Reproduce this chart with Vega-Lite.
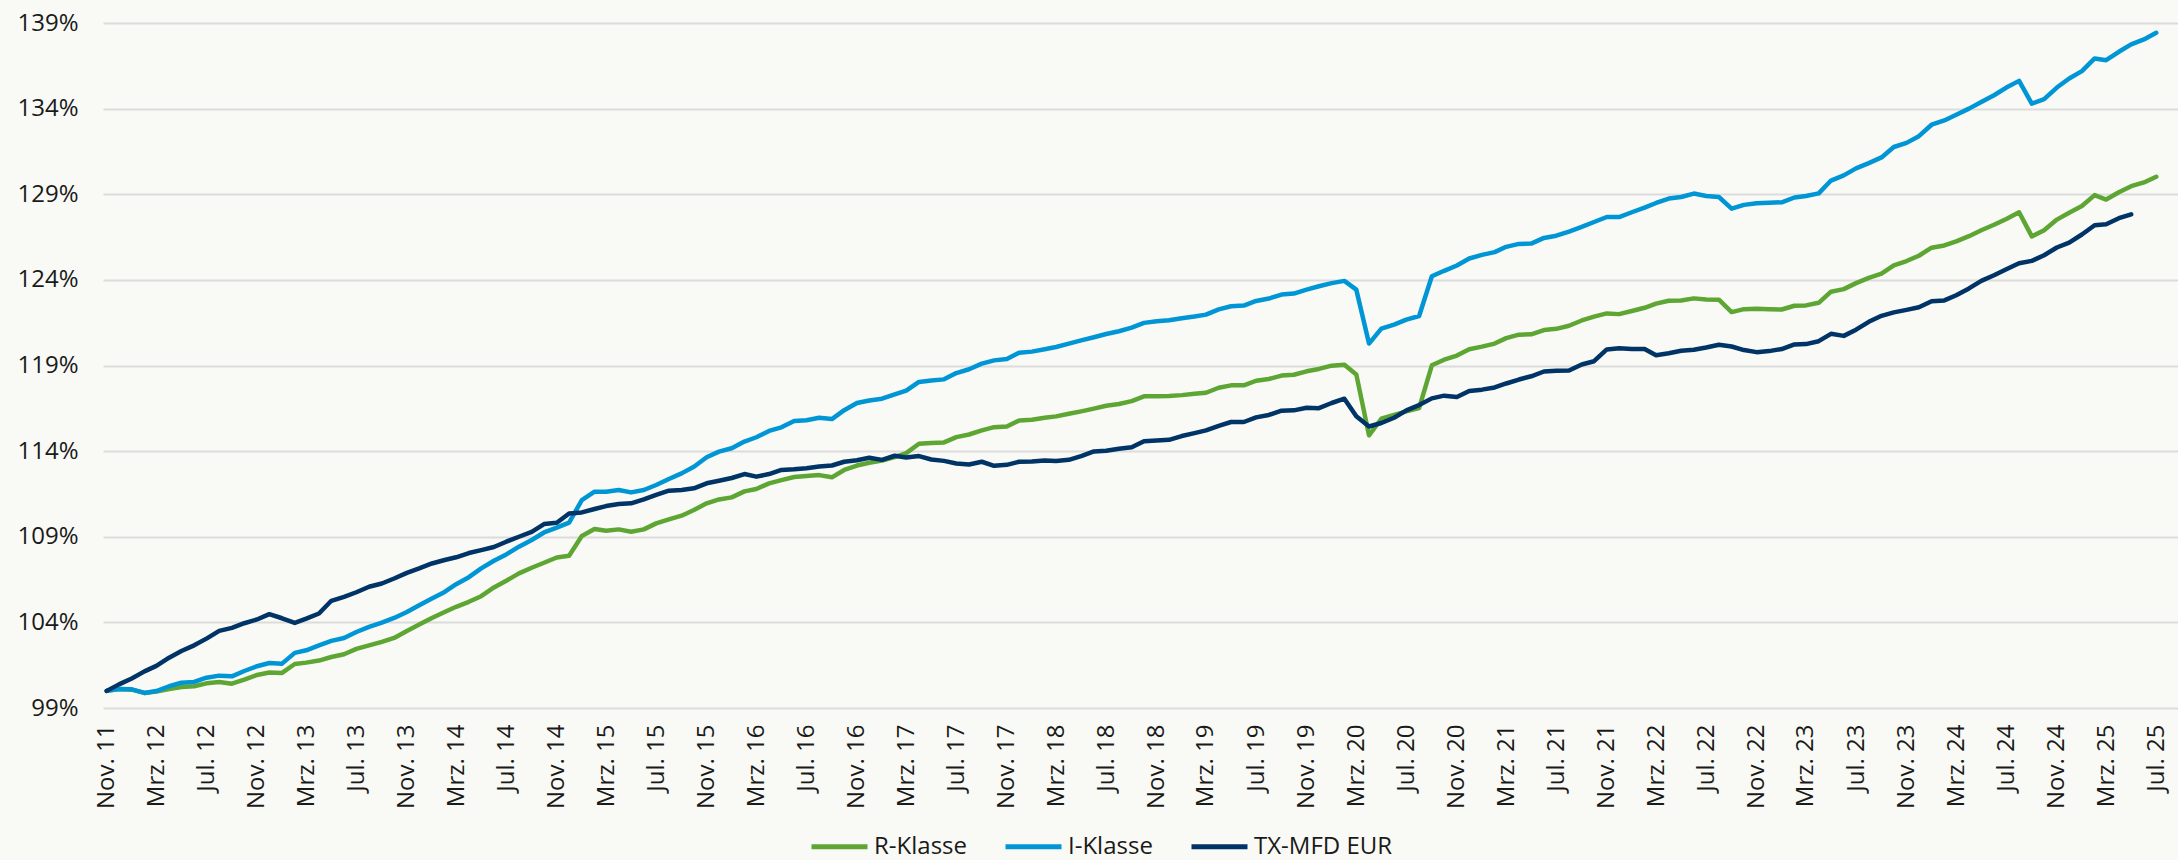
{
"$schema": "https://vega.github.io/schema/vega-lite/v6.json",
"width": 2075, "height": 685,
"autosize": "none",
"padding": {"left": 103, "top": 23, "right": 0, "bottom": 152},
"background": "#f9faf5",
"config": {"view": {"stroke": null}, "font": "Open Sans"},
"data": {"values": [
{"Monat":"2011-11-01","R-Klasse":100.0,"I-Klasse":100.0,"TX-MFD EUR":100.0},
{"Monat":"2011-12-01","R-Klasse":100.11,"I-Klasse":100.11,"TX-MFD EUR":100.38},
{"Monat":"2012-01-01","R-Klasse":100.07,"I-Klasse":100.09,"TX-MFD EUR":100.72},
{"Monat":"2012-02-01","R-Klasse":99.88,"I-Klasse":99.88,"TX-MFD EUR":101.14},
{"Monat":"2012-03-01","R-Klasse":99.96,"I-Klasse":99.99,"TX-MFD EUR":101.46},
{"Monat":"2012-04-01","R-Klasse":100.11,"I-Klasse":100.27,"TX-MFD EUR":101.94},
{"Monat":"2012-05-01","R-Klasse":100.23,"I-Klasse":100.48,"TX-MFD EUR":102.33},
{"Monat":"2012-06-01","R-Klasse":100.27,"I-Klasse":100.52,"TX-MFD EUR":102.66},
{"Monat":"2012-07-01","R-Klasse":100.44,"I-Klasse":100.77,"TX-MFD EUR":103.05},
{"Monat":"2012-08-01","R-Klasse":100.52,"I-Klasse":100.89,"TX-MFD EUR":103.5},
{"Monat":"2012-09-01","R-Klasse":100.42,"I-Klasse":100.85,"TX-MFD EUR":103.68},
{"Monat":"2012-10-01","R-Klasse":100.66,"I-Klasse":101.16,"TX-MFD EUR":103.95},
{"Monat":"2012-11-01","R-Klasse":100.93,"I-Klasse":101.44,"TX-MFD EUR":104.17},
{"Monat":"2012-12-01","R-Klasse":101.07,"I-Klasse":101.63,"TX-MFD EUR":104.48},
{"Monat":"2013-01-01","R-Klasse":101.05,"I-Klasse":101.59,"TX-MFD EUR":104.24},
{"Monat":"2013-02-01","R-Klasse":101.57,"I-Klasse":102.22,"TX-MFD EUR":103.97},
{"Monat":"2013-03-01","R-Klasse":101.65,"I-Klasse":102.37,"TX-MFD EUR":104.22},
{"Monat":"2013-04-01","R-Klasse":101.77,"I-Klasse":102.66,"TX-MFD EUR":104.52},
{"Monat":"2013-05-01","R-Klasse":101.98,"I-Klasse":102.92,"TX-MFD EUR":105.26},
{"Monat":"2013-06-01","R-Klasse":102.14,"I-Klasse":103.09,"TX-MFD EUR":105.49},
{"Monat":"2013-07-01","R-Klasse":102.45,"I-Klasse":103.44,"TX-MFD EUR":105.76},
{"Monat":"2013-08-01","R-Klasse":102.66,"I-Klasse":103.74,"TX-MFD EUR":106.08},
{"Monat":"2013-09-01","R-Klasse":102.86,"I-Klasse":103.99,"TX-MFD EUR":106.27},
{"Monat":"2013-10-01","R-Klasse":103.09,"I-Klasse":104.26,"TX-MFD EUR":106.56},
{"Monat":"2013-11-01","R-Klasse":103.5,"I-Klasse":104.61,"TX-MFD EUR":106.89},
{"Monat":"2013-12-01","R-Klasse":103.87,"I-Klasse":105.0,"TX-MFD EUR":107.15},
{"Monat":"2014-01-01","R-Klasse":104.26,"I-Klasse":105.39,"TX-MFD EUR":107.44},
{"Monat":"2014-02-01","R-Klasse":104.61,"I-Klasse":105.78,"TX-MFD EUR":107.64},
{"Monat":"2014-03-01","R-Klasse":104.91,"I-Klasse":106.23,"TX-MFD EUR":107.8},
{"Monat":"2014-04-01","R-Klasse":105.2,"I-Klasse":106.64,"TX-MFD EUR":108.05},
{"Monat":"2014-05-01","R-Klasse":105.53,"I-Klasse":107.15,"TX-MFD EUR":108.22},
{"Monat":"2014-06-01","R-Klasse":106.04,"I-Klasse":107.6,"TX-MFD EUR":108.4},
{"Monat":"2014-07-01","R-Klasse":106.43,"I-Klasse":107.97,"TX-MFD EUR":108.71},
{"Monat":"2014-08-01","R-Klasse":106.86,"I-Klasse":108.42,"TX-MFD EUR":109.0},
{"Monat":"2014-09-01","R-Klasse":107.19,"I-Klasse":108.81,"TX-MFD EUR":109.29},
{"Monat":"2014-10-01","R-Klasse":107.48,"I-Klasse":109.25,"TX-MFD EUR":109.74},
{"Monat":"2014-11-01","R-Klasse":107.79,"I-Klasse":109.53,"TX-MFD EUR":109.82},
{"Monat":"2014-12-01","R-Klasse":107.89,"I-Klasse":109.82,"TX-MFD EUR":110.36},
{"Monat":"2015-01-01","R-Klasse":109.04,"I-Klasse":111.14,"TX-MFD EUR":110.42},
{"Monat":"2015-02-01","R-Klasse":109.45,"I-Klasse":111.63,"TX-MFD EUR":110.62},
{"Monat":"2015-03-01","R-Klasse":109.35,"I-Klasse":111.63,"TX-MFD EUR":110.79},
{"Monat":"2015-04-01","R-Klasse":109.43,"I-Klasse":111.73,"TX-MFD EUR":110.91},
{"Monat":"2015-05-01","R-Klasse":109.29,"I-Klasse":111.59,"TX-MFD EUR":110.95},
{"Monat":"2015-06-01","R-Klasse":109.43,"I-Klasse":111.73,"TX-MFD EUR":111.18},
{"Monat":"2015-07-01","R-Klasse":109.78,"I-Klasse":112.02,"TX-MFD EUR":111.44},
{"Monat":"2015-08-01","R-Klasse":110.01,"I-Klasse":112.37,"TX-MFD EUR":111.69},
{"Monat":"2015-09-01","R-Klasse":110.23,"I-Klasse":112.7,"TX-MFD EUR":111.73},
{"Monat":"2015-10-01","R-Klasse":110.56,"I-Klasse":113.09,"TX-MFD EUR":111.83},
{"Monat":"2015-11-01","R-Klasse":110.95,"I-Klasse":113.64,"TX-MFD EUR":112.12},
{"Monat":"2015-12-01","R-Klasse":111.18,"I-Klasse":113.97,"TX-MFD EUR":112.27},
{"Monat":"2016-01-01","R-Klasse":111.3,"I-Klasse":114.17,"TX-MFD EUR":112.43},
{"Monat":"2016-02-01","R-Klasse":111.65,"I-Klasse":114.56,"TX-MFD EUR":112.66},
{"Monat":"2016-03-01","R-Klasse":111.79,"I-Klasse":114.81,"TX-MFD EUR":112.51},
{"Monat":"2016-04-01","R-Klasse":112.12,"I-Klasse":115.18,"TX-MFD EUR":112.66},
{"Monat":"2016-05-01","R-Klasse":112.31,"I-Klasse":115.39,"TX-MFD EUR":112.9},
{"Monat":"2016-06-01","R-Klasse":112.49,"I-Klasse":115.76,"TX-MFD EUR":112.94},
{"Monat":"2016-07-01","R-Klasse":112.55,"I-Klasse":115.8,"TX-MFD EUR":113.0},
{"Monat":"2016-08-01","R-Klasse":112.6,"I-Klasse":115.95,"TX-MFD EUR":113.1},
{"Monat":"2016-09-01","R-Klasse":112.47,"I-Klasse":115.87,"TX-MFD EUR":113.16},
{"Monat":"2016-10-01","R-Klasse":112.9,"I-Klasse":116.39,"TX-MFD EUR":113.38},
{"Monat":"2016-11-01","R-Klasse":113.16,"I-Klasse":116.81,"TX-MFD EUR":113.47},
{"Monat":"2016-12-01","R-Klasse":113.32,"I-Klasse":116.96,"TX-MFD EUR":113.61},
{"Monat":"2017-01-01","R-Klasse":113.45,"I-Klasse":117.06,"TX-MFD EUR":113.49},
{"Monat":"2017-02-01","R-Klasse":113.65,"I-Klasse":117.31,"TX-MFD EUR":113.73},
{"Monat":"2017-03-01","R-Klasse":113.88,"I-Klasse":117.53,"TX-MFD EUR":113.63},
{"Monat":"2017-04-01","R-Klasse":114.43,"I-Klasse":118.04,"TX-MFD EUR":113.71},
{"Monat":"2017-05-01","R-Klasse":114.47,"I-Klasse":118.13,"TX-MFD EUR":113.51},
{"Monat":"2017-06-01","R-Klasse":114.51,"I-Klasse":118.19,"TX-MFD EUR":113.43},
{"Monat":"2017-07-01","R-Klasse":114.82,"I-Klasse":118.56,"TX-MFD EUR":113.28},
{"Monat":"2017-08-01","R-Klasse":114.97,"I-Klasse":118.78,"TX-MFD EUR":113.22},
{"Monat":"2017-09-01","R-Klasse":115.21,"I-Klasse":119.11,"TX-MFD EUR":113.38},
{"Monat":"2017-10-01","R-Klasse":115.4,"I-Klasse":119.3,"TX-MFD EUR":113.14},
{"Monat":"2017-11-01","R-Klasse":115.44,"I-Klasse":119.38,"TX-MFD EUR":113.2},
{"Monat":"2017-12-01","R-Klasse":115.79,"I-Klasse":119.75,"TX-MFD EUR":113.38},
{"Monat":"2018-01-01","R-Klasse":115.83,"I-Klasse":119.81,"TX-MFD EUR":113.4},
{"Monat":"2018-02-01","R-Klasse":115.95,"I-Klasse":119.95,"TX-MFD EUR":113.45},
{"Monat":"2018-03-01","R-Klasse":116.03,"I-Klasse":120.08,"TX-MFD EUR":113.42},
{"Monat":"2018-04-01","R-Klasse":116.18,"I-Klasse":120.28,"TX-MFD EUR":113.49},
{"Monat":"2018-05-01","R-Klasse":116.32,"I-Klasse":120.47,"TX-MFD EUR":113.71},
{"Monat":"2018-06-01","R-Klasse":116.48,"I-Klasse":120.65,"TX-MFD EUR":113.98},
{"Monat":"2018-07-01","R-Klasse":116.65,"I-Klasse":120.84,"TX-MFD EUR":114.02},
{"Monat":"2018-08-01","R-Klasse":116.75,"I-Klasse":121.0,"TX-MFD EUR":114.14},
{"Monat":"2018-09-01","R-Klasse":116.92,"I-Klasse":121.21,"TX-MFD EUR":114.23},
{"Monat":"2018-10-01","R-Klasse":117.2,"I-Klasse":121.49,"TX-MFD EUR":114.58},
{"Monat":"2018-11-01","R-Klasse":117.21,"I-Klasse":121.59,"TX-MFD EUR":114.62},
{"Monat":"2018-12-01","R-Klasse":117.22,"I-Klasse":121.64,"TX-MFD EUR":114.66},
{"Monat":"2019-01-01","R-Klasse":117.27,"I-Klasse":121.76,"TX-MFD EUR":114.88},
{"Monat":"2019-02-01","R-Klasse":117.35,"I-Klasse":121.86,"TX-MFD EUR":115.05},
{"Monat":"2019-03-01","R-Klasse":117.41,"I-Klasse":121.97,"TX-MFD EUR":115.21},
{"Monat":"2019-04-01","R-Klasse":117.7,"I-Klasse":122.28,"TX-MFD EUR":115.48},
{"Monat":"2019-05-01","R-Klasse":117.84,"I-Klasse":122.46,"TX-MFD EUR":115.7},
{"Monat":"2019-06-01","R-Klasse":117.84,"I-Klasse":122.5,"TX-MFD EUR":115.7},
{"Monat":"2019-07-01","R-Klasse":118.11,"I-Klasse":122.77,"TX-MFD EUR":115.97},
{"Monat":"2019-08-01","R-Klasse":118.21,"I-Klasse":122.91,"TX-MFD EUR":116.11},
{"Monat":"2019-09-01","R-Klasse":118.41,"I-Klasse":123.14,"TX-MFD EUR":116.36},
{"Monat":"2019-10-01","R-Klasse":118.46,"I-Klasse":123.2,"TX-MFD EUR":116.38},
{"Monat":"2019-11-01","R-Klasse":118.66,"I-Klasse":123.43,"TX-MFD EUR":116.53},
{"Monat":"2019-12-01","R-Klasse":118.8,"I-Klasse":123.63,"TX-MFD EUR":116.51},
{"Monat":"2020-01-01","R-Klasse":118.99,"I-Klasse":123.81,"TX-MFD EUR":116.81},
{"Monat":"2020-02-01","R-Klasse":119.05,"I-Klasse":123.94,"TX-MFD EUR":117.06},
{"Monat":"2020-03-01","R-Klasse":118.48,"I-Klasse":123.43,"TX-MFD EUR":116.03},
{"Monat":"2020-04-01","R-Klasse":114.92,"I-Klasse":120.28,"TX-MFD EUR":115.44},
{"Monat":"2020-05-01","R-Klasse":115.89,"I-Klasse":121.15,"TX-MFD EUR":115.64},
{"Monat":"2020-06-01","R-Klasse":116.12,"I-Klasse":121.39,"TX-MFD EUR":115.95},
{"Monat":"2020-07-01","R-Klasse":116.32,"I-Klasse":121.68,"TX-MFD EUR":116.38},
{"Monat":"2020-08-01","R-Klasse":116.51,"I-Klasse":121.89,"TX-MFD EUR":116.69},
{"Monat":"2020-09-01","R-Klasse":119.01,"I-Klasse":124.21,"TX-MFD EUR":117.08},
{"Monat":"2020-10-01","R-Klasse":119.34,"I-Klasse":124.53,"TX-MFD EUR":117.24},
{"Monat":"2020-11-01","R-Klasse":119.58,"I-Klasse":124.84,"TX-MFD EUR":117.16},
{"Monat":"2020-12-01","R-Klasse":119.95,"I-Klasse":125.25,"TX-MFD EUR":117.51},
{"Monat":"2021-01-01","R-Klasse":120.1,"I-Klasse":125.46,"TX-MFD EUR":117.59},
{"Monat":"2021-02-01","R-Klasse":120.28,"I-Klasse":125.62,"TX-MFD EUR":117.72},
{"Monat":"2021-03-01","R-Klasse":120.6,"I-Klasse":125.93,"TX-MFD EUR":117.95},
{"Monat":"2021-04-01","R-Klasse":120.8,"I-Klasse":126.1,"TX-MFD EUR":118.18},
{"Monat":"2021-05-01","R-Klasse":120.82,"I-Klasse":126.12,"TX-MFD EUR":118.37},
{"Monat":"2021-06-01","R-Klasse":121.07,"I-Klasse":126.45,"TX-MFD EUR":118.65},
{"Monat":"2021-07-01","R-Klasse":121.14,"I-Klasse":126.58,"TX-MFD EUR":118.69},
{"Monat":"2021-08-01","R-Klasse":121.32,"I-Klasse":126.82,"TX-MFD EUR":118.71},
{"Monat":"2021-09-01","R-Klasse":121.63,"I-Klasse":127.09,"TX-MFD EUR":119.06},
{"Monat":"2021-10-01","R-Klasse":121.85,"I-Klasse":127.38,"TX-MFD EUR":119.25},
{"Monat":"2021-11-01","R-Klasse":122.04,"I-Klasse":127.67,"TX-MFD EUR":119.94},
{"Monat":"2021-12-01","R-Klasse":122.0,"I-Klasse":127.67,"TX-MFD EUR":120.01},
{"Monat":"2022-01-01","R-Klasse":122.18,"I-Klasse":127.95,"TX-MFD EUR":119.97},
{"Monat":"2022-02-01","R-Klasse":122.37,"I-Klasse":128.22,"TX-MFD EUR":119.96},
{"Monat":"2022-03-01","R-Klasse":122.61,"I-Klasse":128.49,"TX-MFD EUR":119.6},
{"Monat":"2022-04-01","R-Klasse":122.78,"I-Klasse":128.75,"TX-MFD EUR":119.72},
{"Monat":"2022-05-01","R-Klasse":122.8,"I-Klasse":128.84,"TX-MFD EUR":119.86},
{"Monat":"2022-06-01","R-Klasse":122.92,"I-Klasse":129.04,"TX-MFD EUR":119.92},
{"Monat":"2022-07-01","R-Klasse":122.86,"I-Klasse":128.9,"TX-MFD EUR":120.05},
{"Monat":"2022-08-01","R-Klasse":122.84,"I-Klasse":128.84,"TX-MFD EUR":120.21},
{"Monat":"2022-09-01","R-Klasse":122.12,"I-Klasse":128.16,"TX-MFD EUR":120.11},
{"Monat":"2022-10-01","R-Klasse":122.29,"I-Klasse":128.38,"TX-MFD EUR":119.9},
{"Monat":"2022-11-01","R-Klasse":122.31,"I-Klasse":128.47,"TX-MFD EUR":119.78},
{"Monat":"2022-12-01","R-Klasse":122.29,"I-Klasse":128.51,"TX-MFD EUR":119.84},
{"Monat":"2023-01-01","R-Klasse":122.27,"I-Klasse":128.53,"TX-MFD EUR":119.96},
{"Monat":"2023-02-01","R-Klasse":122.49,"I-Klasse":128.81,"TX-MFD EUR":120.23},
{"Monat":"2023-03-01","R-Klasse":122.51,"I-Klasse":128.9,"TX-MFD EUR":120.25},
{"Monat":"2023-04-01","R-Klasse":122.66,"I-Klasse":129.05,"TX-MFD EUR":120.42},
{"Monat":"2023-05-01","R-Klasse":123.31,"I-Klasse":129.8,"TX-MFD EUR":120.85},
{"Monat":"2023-06-01","R-Klasse":123.46,"I-Klasse":130.1,"TX-MFD EUR":120.73},
{"Monat":"2023-07-01","R-Klasse":123.81,"I-Klasse":130.51,"TX-MFD EUR":121.09},
{"Monat":"2023-08-01","R-Klasse":124.12,"I-Klasse":130.82,"TX-MFD EUR":121.55},
{"Monat":"2023-09-01","R-Klasse":124.36,"I-Klasse":131.15,"TX-MFD EUR":121.9},
{"Monat":"2023-10-01","R-Klasse":124.85,"I-Klasse":131.76,"TX-MFD EUR":122.1},
{"Monat":"2023-11-01","R-Klasse":125.1,"I-Klasse":132.0,"TX-MFD EUR":122.25},
{"Monat":"2023-12-01","R-Klasse":125.41,"I-Klasse":132.39,"TX-MFD EUR":122.4},
{"Monat":"2024-01-01","R-Klasse":125.88,"I-Klasse":133.06,"TX-MFD EUR":122.75},
{"Monat":"2024-02-01","R-Klasse":126.01,"I-Klasse":133.31,"TX-MFD EUR":122.8},
{"Monat":"2024-03-01","R-Klasse":126.25,"I-Klasse":133.64,"TX-MFD EUR":123.1},
{"Monat":"2024-04-01","R-Klasse":126.55,"I-Klasse":134.0,"TX-MFD EUR":123.5},
{"Monat":"2024-05-01","R-Klasse":126.9,"I-Klasse":134.39,"TX-MFD EUR":123.94},
{"Monat":"2024-06-01","R-Klasse":127.22,"I-Klasse":134.78,"TX-MFD EUR":124.27},
{"Monat":"2024-07-01","R-Klasse":127.56,"I-Klasse":135.23,"TX-MFD EUR":124.62},
{"Monat":"2024-08-01","R-Klasse":127.95,"I-Klasse":135.62,"TX-MFD EUR":124.97},
{"Monat":"2024-09-01","R-Klasse":126.54,"I-Klasse":134.29,"TX-MFD EUR":125.11},
{"Monat":"2024-10-01","R-Klasse":126.9,"I-Klasse":134.55,"TX-MFD EUR":125.44},
{"Monat":"2024-11-01","R-Klasse":127.52,"I-Klasse":135.23,"TX-MFD EUR":125.89},
{"Monat":"2024-12-01","R-Klasse":127.92,"I-Klasse":135.76,"TX-MFD EUR":126.18},
{"Monat":"2025-01-01","R-Klasse":128.31,"I-Klasse":136.19,"TX-MFD EUR":126.65},
{"Monat":"2025-02-01","R-Klasse":128.95,"I-Klasse":136.93,"TX-MFD EUR":127.19},
{"Monat":"2025-03-01","R-Klasse":128.69,"I-Klasse":136.83,"TX-MFD EUR":127.25},
{"Monat":"2025-04-01","R-Klasse":129.12,"I-Klasse":137.32,"TX-MFD EUR":127.6},
{"Monat":"2025-05-01","R-Klasse":129.47,"I-Klasse":137.75,"TX-MFD EUR":127.83},
{"Monat":"2025-06-01","R-Klasse":129.69,"I-Klasse":138.04},
{"Monat":"2025-07-01","R-Klasse":130.02,"I-Klasse":138.43}
]},
"transform": [{"fold": ["R-Klasse", "I-Klasse", "TX-MFD EUR"], "as": ["Serie", "Wert"]}],
"mark": {"type": "line", "strokeWidth": 4.5, "strokeCap": "round", "strokeJoin": "round"},
"encoding": {
  "x": {"field": "Monat", "type": "temporal",
    "scale": {"type": "utc", "domain": [{"year": 2011, "month": 10, "date": 23, "utc": true}, {"year": 2025, "month": 8, "date": 23, "utc": true}]},
    "axis": {"title": null, "grid": false, "domain": false, "ticks": false, "labelAngle": -90, "labelFont": "Open Sans", "labelFontSize": 24, "labelColor": "#1a1a1a", "labelPadding": 16, "labelOverlap": false, "labelBound": false, "labelFlush": false,
      "labelExpr": "(utcFormat(datum.value,'%m')=='11'?'Nov.':utcFormat(datum.value,'%m')=='03'?'Mrz.':'Jul.') + ' ' + utcFormat(datum.value,'%y')",
      "values": [
        {"year":2011,"month":11,"date":1,"utc":true},{"year":2012,"month":3,"date":1,"utc":true},{"year":2012,"month":7,"date":1,"utc":true},
        {"year":2012,"month":11,"date":1,"utc":true},{"year":2013,"month":3,"date":1,"utc":true},{"year":2013,"month":7,"date":1,"utc":true},
        {"year":2013,"month":11,"date":1,"utc":true},{"year":2014,"month":3,"date":1,"utc":true},{"year":2014,"month":7,"date":1,"utc":true},
        {"year":2014,"month":11,"date":1,"utc":true},{"year":2015,"month":3,"date":1,"utc":true},{"year":2015,"month":7,"date":1,"utc":true},
        {"year":2015,"month":11,"date":1,"utc":true},{"year":2016,"month":3,"date":1,"utc":true},{"year":2016,"month":7,"date":1,"utc":true},
        {"year":2016,"month":11,"date":1,"utc":true},{"year":2017,"month":3,"date":1,"utc":true},{"year":2017,"month":7,"date":1,"utc":true},
        {"year":2017,"month":11,"date":1,"utc":true},{"year":2018,"month":3,"date":1,"utc":true},{"year":2018,"month":7,"date":1,"utc":true},
        {"year":2018,"month":11,"date":1,"utc":true},{"year":2019,"month":3,"date":1,"utc":true},{"year":2019,"month":7,"date":1,"utc":true},
        {"year":2019,"month":11,"date":1,"utc":true},{"year":2020,"month":3,"date":1,"utc":true},{"year":2020,"month":7,"date":1,"utc":true},
        {"year":2020,"month":11,"date":1,"utc":true},{"year":2021,"month":3,"date":1,"utc":true},{"year":2021,"month":7,"date":1,"utc":true},
        {"year":2021,"month":11,"date":1,"utc":true},{"year":2022,"month":3,"date":1,"utc":true},{"year":2022,"month":7,"date":1,"utc":true},
        {"year":2022,"month":11,"date":1,"utc":true},{"year":2023,"month":3,"date":1,"utc":true},{"year":2023,"month":7,"date":1,"utc":true},
        {"year":2023,"month":11,"date":1,"utc":true},{"year":2024,"month":3,"date":1,"utc":true},{"year":2024,"month":7,"date":1,"utc":true},
        {"year":2024,"month":11,"date":1,"utc":true},{"year":2025,"month":3,"date":1,"utc":true},{"year":2025,"month":7,"date":1,"utc":true}
      ]}},
  "y": {"field": "Wert", "type": "quantitative",
    "scale": {"domain": [99, 139], "nice": false, "zero": false},
    "axis": {"title": null, "domain": false, "ticks": false, "values": [99, 104, 109, 114, 119, 124, 129, 134, 139], "labelExpr": "datum.value + '%'", "labelFont": "Open Sans", "labelFontSize": 24, "labelColor": "#1a1a1a", "labelPadding": 25, "gridColor": "#dcdcdc", "gridWidth": 2}},
  "color": {"field": "Serie", "type": "nominal",
    "scale": {"domain": ["R-Klasse", "I-Klasse", "TX-MFD EUR"], "range": ["#5ea634", "#0096d6", "#003366"]},
    "legend": {"title": null, "orient": "none", "legendX": 706, "legendY": 793, "direction": "horizontal", "symbolType": "stroke", "symbolSize": 3136, "symbolStrokeWidth": 5, "labelFont": "Open Sans", "labelFontSize": 24, "labelColor": "#1a1a1a", "labelOffset": 4, "columnPadding": 28, "labelLimit": 0}}
}
}
